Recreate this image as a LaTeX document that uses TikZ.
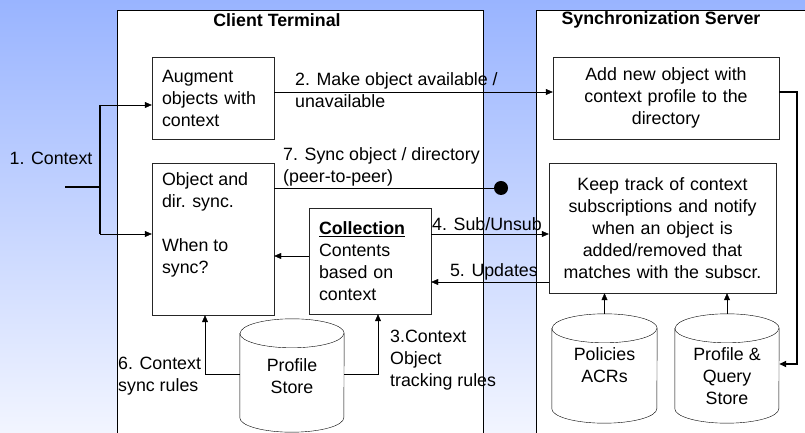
\documentclass[tikz,border=0pt]{standalone}
\usepackage{fontspec}
\setmainfont{Liberation Sans}
\usetikzlibrary{arrows.meta}
\definecolor{skytop}{RGB}{153,180,255}
\definecolor{skybot}{RGB}{242,245,255}
% outline of a storage drum round an (empty) frame node
\def\drum(#1)(#2:#3){%
  \draw ([yshift=-#3]#1.north west) -- ([yshift=#3]#1.south west) arc (180:360:#2 and #3)
    -- ([yshift=-#3]#1.north east) arc (0:180:#2 and #3);
  \draw ([yshift=-#3]#1.north west) arc (180:360:#2 and #3);}

\begin{document}
\begin{tikzpicture}[x=1pt,y=1pt,
    font=\fontsize{17.8pt}{22pt}\selectfont,
    box/.style={draw=black!85, inner sep=0pt},
    frame/.style={inner sep=0pt},
    lbl/.style={anchor=north west, inner sep=0pt, align=left},
    arr/.style={-{Triangle[length=7pt,width=6pt]}},
    heavy/.style={line width=2pt}]
  %%%%% BACKGROUND %%%%%
  \useasboundingbox (0,0) rectangle (805,433);
  \shade[top color=skytop, bottom color=skybot] (0,0) rectangle (805,433);

  \draw[fill=white] (117,-3) rectangle (483,423);
  \draw[fill=white] (536,-3) rectangle (812,423);
  \node[font=\fontsize{17.8pt}{22pt}\selectfont\bfseries] (client) at (277,413) {Client Terminal};
  \node[font=\fontsize{17.8pt}{22pt}\selectfont\bfseries] (server) at (661,413) {Synchronization Server};

  %%%%% BOXES %%%%%
  \node[box, minimum width=122pt, minimum height=82pt, text width=102pt, align=left] (aug) at (213,335) {Augment\\objects with\\context};
  \node[box, minimum width=122pt, minimum height=152pt] (sync) at (213,194)
    {\parbox[c][132pt][t]{102pt}{\raggedright Object and\\dir. sync.\\[22pt]When to\\sync?}};
  \node[box, minimum width=122pt, minimum height=106pt, text width=102pt, align=left] (coll) at (370,172)
    {\underline{\textbf{Collection}}\\Contents\\based on\\context};
  \node[box, minimum width=226pt, minimum height=82pt, text width=210pt, align=center] (add) at (666,335)
    {Add new object with\\context profile to the\\directory};
  \node[box, minimum width=227pt, minimum height=130pt, text width=215pt, align=center] (keep) at (662.5,205)
    {Keep track of context\\subscriptions and notify\\when an object is\\added/removed that\\matches with the subscr.};

  %%%%% STORES %%%%%
  \node[frame, minimum width=104pt, minimum height=113pt] (store) at (292,57.5) {};
  \node[frame, minimum width=105pt, minimum height=109pt] (pol) at (604.5,64.5) {};
  \node[frame, minimum width=104pt, minimum height=109pt] (pqs) at (727,64.5) {};
  \drum(store)(52pt:14.5pt)
  \drum(pol)(52.5pt:14.5pt)
  \drum(pqs)(52pt:14.5pt)
  \node[align=center] (storetxt) at (292,57) {Profile\\Store};
  \node[align=center] (poltxt) at (604.5,68) {Policies\\ACRs};
  \node[align=center] (pqstxt) at (727,57) {Profile \&\\Query\\Store};

  %%%%% CONNECTORS %%%%%
  % 1. context in
  \coordinate (ctx) at (65,246);
  \coordinate (fork) at (100,246);
  \coordinate (augin) at ([yshift=-7pt]aug.west);
  \coordinate (syncin) at ([yshift=5pt]sync.west);
  \draw[heavy] (ctx) -- (fork);
  \draw[heavy] (fork |- augin) -- (fork |- syncin);
  \draw[arr] (fork |- augin) -- (augin);
  \draw[arr] (fork |- syncin) -- (syncin);
  \node (l1) at (51,275) {1. Context};

  % 2. make available
  \draw[arr] ([yshift=6pt]aug.east) -- ([yshift=6pt]add.west);
  \node[lbl] (l2) at (295,361) {2. Make object available /\\unavailable};

  % 7. peer-to-peer
  \coordinate (dot) at (501,245);
  \draw ([yshift=51pt]sync.east) -- (dot);
  \fill (dot) circle (7pt);
  \node[lbl] (l7) at (283,286) {7. Sync object / directory\\(peer-to-peer)};

  % 4. and 5.
  \coordinate (subout) at ([yshift=27pt]coll.east);
  \coordinate (updin) at ([yshift=-21pt]coll.east);
  \coordinate (collout) at ([yshift=5pt]coll.west);
  \draw[arr] (subout) -- (subout -| keep.west);
  \draw[arr] (updin -| keep.west) -- (updin);
  \draw[arr] (collout) -- (collout -| sync.east);
  \node[lbl] (l4) at (432,216) {4. Sub/Unsub};
  \node[anchor=north east, inner sep=0pt] (l5) at (538,170) {5. Updates};

  % 6. and 3. rules from the store
  \coordinate (rule6) at ([yshift=1.5pt]store.west);
  \coordinate (rule3) at ([yshift=1.5pt]store.east);
  \draw[arr] (rule6) -| ([xshift=-8pt]sync.south);
  \draw[arr] (rule3) -| ([xshift=8pt]coll.south);
  \node[lbl] (l6) at (118,76) {6. Context\\sync rules};
  \node[lbl] (l3) at (390,103) {3.Context\\Object\\tracking rules};

  % server side
  \draw[arr] (pol.north) -- (pol.north |- keep.south);
  \draw[arr] (pqs.north) -- (pqs.north |- keep.south);
  \coordinate (addout) at ([yshift=6pt]add.east);
  \coordinate (pqsin) at ([yshift=4.5pt]pqs.east);
  \coordinate (bend) at (797,0);
  \draw[heavy, arr] (addout) -- (addout -| bend) -- (pqsin -| bend) -- (pqsin);
\end{tikzpicture}
\end{document}
